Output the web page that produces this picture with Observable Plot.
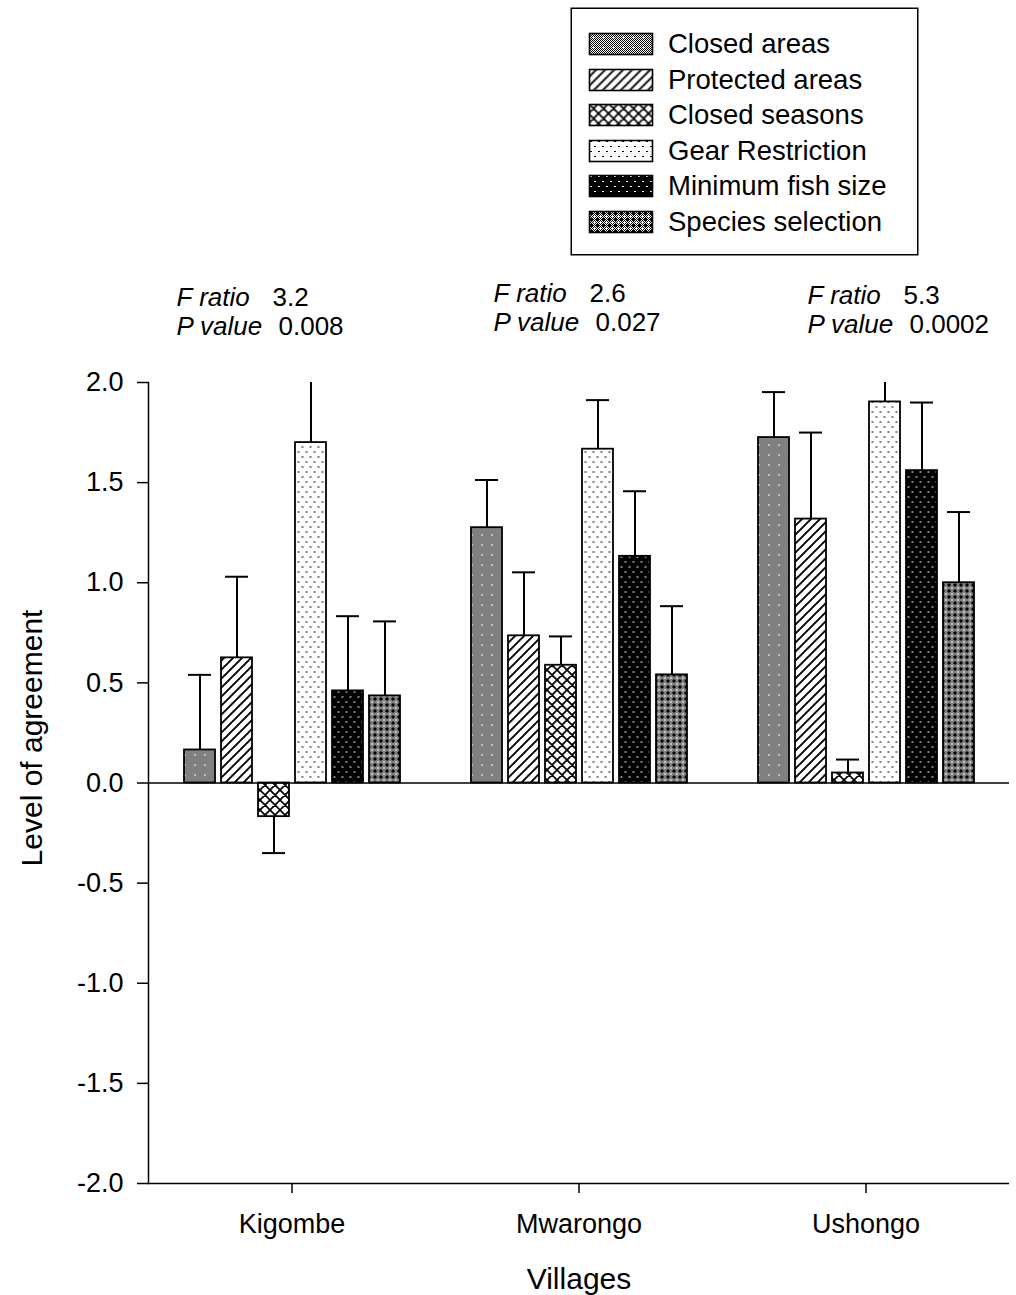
<!DOCTYPE html>
<html><head><meta charset="utf-8">
<script src="https://cdn.jsdelivr.net/npm/d3@7"></script>
<script src="https://cdn.jsdelivr.net/npm/@observablehq/plot@0.6"></script>
<style>
body{margin:0;background:#fff;font-family:"Liberation Sans",Arial,sans-serif;}
#wrap{position:relative;width:1016px;height:1295px;overflow:hidden;}
#wrap svg.plot{position:absolute;left:0;top:0;}
#legend{position:absolute;left:571px;top:8px;width:347px;height:247px;border:1px solid #000;box-shadow:0 0 0 0.5px #000;box-sizing:border-box;background:#fff;}
#legend .row{position:absolute;left:0;height:36px;width:340px;}
#legend .row svg{position:absolute;left:16px;top:6px;}
#legend .row span{position:absolute;left:96px;top:50%;transform:translateY(-50%);font-size:27.5px;white-space:nowrap;color:#000;line-height:1;}
</style>
</head><body>
<div id="wrap"></div>
<script>
// ---- data ----
const villages = ["Kigombe", "Mwarongo", "Ushongo"];
const measures = ["Closed areas", "Protected areas", "Closed seasons", "Gear Restriction", "Minimum fish size", "Species selection"];
const kigombeMean  = [0.165, 0.625, -0.168, 1.70, 0.46, 0.435];
const kigombeErr   = [0.375, 0.405, 0.182, 0.40, 0.373, 0.372];
const mwarongoMean = [1.275, 0.735, 0.588, 1.667, 1.132, 0.54];
const mwarongoErr  = [0.238, 0.317, 0.144, 0.245, 0.325, 0.343];
const ushongoMean  = [1.725, 1.318, 0.05, 1.903, 1.56, 1.00];
const ushongoErr   = [0.227, 0.432, 0.067, 0.20, 0.34, 0.353];
const fRatio = ["3.2", "2.6", "5.3"];
const pValue = ["0.008", "0.027", "0.0002"];
const yTicks = [-2, -1.5, -1, -0.5, 0, 0.5, 1, 1.5, 2];

const means = [kigombeMean, mwarongoMean, ushongoMean];
const errs = [kigombeErr, mwarongoErr, ushongoErr];
const rows = [];
villages.forEach((v, i) => measures.forEach((m, j) => {
  const mean = means[i][j], err = errs[i][j];
  rows.push({village: v, measure: m, mean, err, end: mean + Math.sign(mean) * err});
}));
const ann = villages.map((v, i) => ({village: v, f: fRatio[i], p: pValue[i]}));

// ---- patterns ----
function pixPattern(id, w, h, bg, fg, fn) {
  let s = `<pattern id="${id}" patternUnits="userSpaceOnUse" width="${w}" height="${h}" patternTransform="translate(-0.5,-0.5)"><rect width="${w}" height="${h}" fill="${bg}"/>`;
  for (let y = 0; y < h; y++) for (let x = 0; x < w; x++)
    if (fn(x, y)) s += `<rect x="${x}" y="${y}" width="1" height="1" fill="${fg}"/>`;
  return s + "</pattern>";
}
const plus = (cx, cy) => (x, y) => (x === cx && Math.abs(y - cy) <= 1) || (y === cy && Math.abs(x - cx) <= 1);
const p0 = pixPattern("pat0", 10, 10, "#fff", "#000", (x, y) => {
  if (plus(5, 5)(x, y)) return false;
  return (x + y) % 2 === 0;
});
const p1 = `<pattern id="pat1" patternUnits="userSpaceOnUse" width="9" height="9"><rect width="9" height="9" fill="#fff"/>
  <path d="M-1,10L10,-1M-2,2L2,-2M7,11L11,7" stroke="#000" stroke-width="1.9"/></pattern>`;
const p2 = `<pattern id="pat2" patternUnits="userSpaceOnUse" width="10" height="10"><rect width="10" height="10" fill="#fff"/>
  <path d="M-1,11L11,-1M-2,2L2,-2M8,12L12,8M-1,-1L11,11M-2,8L2,12M8,-2L12,2" stroke="#000" stroke-width="1.7"/></pattern>`;
const dotFn = (x, y) => ((x === 2 || x === 3) && y === 2) || ((x === 6 || x === 7) && y === 7);
const p3 = pixPattern("pat3", 8, 10, "#fff", "#000", dotFn);
const p4 = pixPattern("pat4", 8, 10, "#000", "#fff", dotFn);
const p5 = pixPattern("pat5", 6, 6, "#fff", "#000", (x, y) => {
  if (plus(0, 0)(x, y) || plus(6, 0)(x, y) || plus(0, 6)(x, y) || (x === 5 && y === 0) || (x === 0 && y === 5)) return false;
  if (plus(3, 3)(x, y)) return true;
  return (x + y) % 2 === 0;
});

const wrap = document.getElementById("wrap");
const defs = document.createElementNS("http://www.w3.org/2000/svg", "svg");
defs.setAttribute("width", 0); defs.setAttribute("height", 0);
defs.style.position = "absolute";
defs.innerHTML = `<defs>${p0}${p1}${p2}${p3}${p4}${p5}</defs>`;
wrap.appendChild(defs);

const font = '"Liberation Sans", Arial, sans-serif';
const annLayout = {Kigombe: {dx: 29, dy: 0}, Mwarongo: {dx: 59, dy: -4}, Ushongo: {dx: 86, dy: -2}};
const annMarks = villages.flatMap(v => {
  const L = annLayout[v];
  const data = ann.filter(d => d.village === v);
  const common = {fx: "village", frameAnchor: "top-left", textAnchor: "start", lineAnchor: "middle", fontSize: 26, fill: "#000"};
  return [
    Plot.text(data, {...common, text: () => "F ratio", fontStyle: "italic", dx: L.dx - 1, dy: -85 + L.dy}),
    Plot.text(data, {...common, text: "f", dx: L.dx + 95, dy: -85 + L.dy}),
    Plot.text(data, {...common, text: () => "P value", fontStyle: "italic", dx: L.dx - 1, dy: -56 + L.dy}),
    Plot.text(data, {...common, text: "p", dx: L.dx + 101, dy: -56 + L.dy})
  ];
});

const plot = Plot.plot({
  width: 1016, height: 1295,
  marginLeft: 148, marginRight: 7, marginTop: 382, marginBottom: 112,
  style: {fontFamily: font, fontSize: "27px", color: "#000", background: "transparent", overflow: "visible"},
  fx: {domain: villages, padding: 0, label: null},
  x: {domain: measures, paddingInner: 0.17, paddingOuter: 0.9, axis: null},
  y: {domain: [-2, 2], axis: null},
  color: {domain: measures, range: measures.map((m, i) => `url(#pat${i})`)},
  marks: [
    Plot.barY(rows, {fx: "village", x: "measure", y1: 0, y2: "mean", fill: "measure", stroke: "#000", strokeWidth: 1.8}),
    Plot.ruleX(rows, {fx: "village", x: "measure", y1: "mean", y2: "end", stroke: "#000", strokeWidth: 2, clip: true}),
    Plot.tickY(rows, {fx: "village", x: "measure", y: "end", stroke: "#000", strokeWidth: 2, inset: 4, clip: true}),
    Plot.ruleY([0], {stroke: "#000", strokeWidth: 1.5}),
    Plot.ruleY([-2], {stroke: "#000", strokeWidth: 1.5}),
    Plot.axisY({ticks: yTicks, tickSize: 11, tickPadding: 14, tickFormat: d => d.toFixed(1), fontSize: 27, label: null, stroke: "#000", strokeWidth: 1.5}),
    Plot.axisFx({anchor: "bottom", tickSize: 10, tickPadding: 20, fontSize: 27, label: null, stroke: "#000", strokeWidth: 1.5}),
    Plot.frame({anchor: "left", facetAnchor: "left", stroke: "#000", strokeWidth: 1.5}),
    Plot.text(["Level of agreement"], {fx: ["Kigombe"], frameAnchor: "left", textAnchor: "middle", lineAnchor: "middle", rotate: -90, dx: -116, dy: -45, fontSize: 30, fill: "#000"}),
    Plot.text(["Villages"], {fx: ["Mwarongo"], frameAnchor: "bottom", textAnchor: "middle", lineAnchor: "middle", dy: 96, fontSize: 30, fill: "#000"}),
    ...annMarks
  ]
});
plot.classList.add("plot");
wrap.appendChild(plot);

// ---- legend ----
const legend = document.createElement("div");
legend.id = "legend";
measures.forEach((m, i) => {
  const row = document.createElement("div");
  row.className = "row";
  row.style.top = Math.round(17 + i * 35.6) + "px";
  row.innerHTML = `<svg width="66" height="24"><g transform="translate(0.5,0.5)"><rect x="1" y="1" width="63" height="21" fill="url(#pat${i})" stroke="#000" stroke-width="1.6"/></g></svg><span>${m}</span>`;
  legend.appendChild(row);
});
wrap.appendChild(legend);
</script>
</body></html>
